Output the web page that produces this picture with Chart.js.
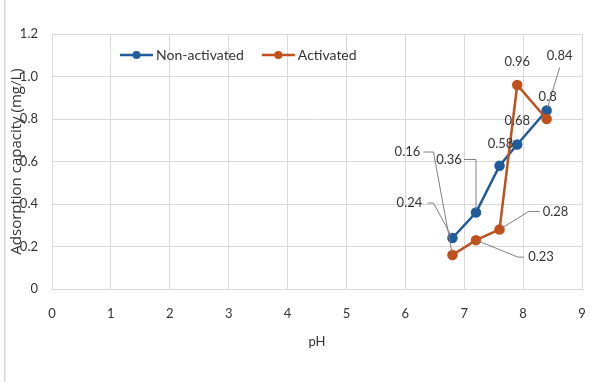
<!DOCTYPE html>
<html>
<head>
<meta charset="utf-8">
<script src="https://cdn.jsdelivr.net/npm/chart.js@4.4.1/dist/chart.umd.min.js"></script>
<style>
    html, body { margin: 0; padding: 0; background: #fff; }
    #wrap { width: 590px; height: 382px; position: relative; }
</style>
</head>
<body>
<div id="wrap"><canvas id="chart"></canvas></div>
<script>
const phValues = [6.8, 7.2, 7.6, 7.9, 8.4];
const nonActivated = [0.24, 0.36, 0.58, 0.68, 0.84];
const activated = [0.16, 0.23, 0.28, 0.96, 0.8];
const seriesNames = ["Non-activated", "Activated"];
const xTicks = {min: 0, max: 9, step: 1};
const yTicks = {min: 0, max: 1.2, step: 0.2};

const BLUE = "#1F5C99";
const ORANGE = "#C0501C";
const GRID = "#d9d9d9";
const TEXT = "#333333";

// label placement: text centre offset from the point, optional leader line (offsets from point)
const labelPlacement = [
    [
        {dx: -43, dy: -35, leader: [[-25, -35], [-19, -35]]},
        {dx: -27, dy: -53, leader: [[-12, -53], [0, -53]]},
        {dx: 1, dy: -22},
        {dx: 0, dy: -24},
        {dx: 13, dy: -55, leader: [[13, -43]]}
    ],
    [
        {dx: -45, dy: -103, leader: [[-29, -103], [-19, -103]]},
        {dx: 65, dy: 17, leader: [[48, 17], [42, 17]]},
        {dx: 56, dy: -18, leader: [[40, -18], [29, -18]]},
        {dx: 0, dy: -23},
        {dx: 1, dy: -22}
    ]
];

const toPoints = (ys) => phValues.map((x, i) => ({x: x, y: ys[i]}));

const backgroundFrame = {
    id: "backgroundFrame",
    beforeDraw(chart) {
        const ctx = chart.ctx;
        ctx.save();
        ctx.fillStyle = "#ffffff";
        ctx.fillRect(0, 0, chart.width, chart.height);
        ctx.fillStyle = "#d4d4d4";
        ctx.fillRect(4, 0, 1.5, chart.height);
        ctx.restore();
    }
};

const pointLabels = {
    id: "pointLabels",
    afterDatasetsDraw(chart, args, opts) {
        const ctx = chart.ctx;
        ctx.save();
        ctx.font = opts.font;
        ctx.textAlign = "center";
        ctx.textBaseline = "middle";
        chart.data.datasets.forEach((ds, i) => {
            const meta = chart.getDatasetMeta(i);
            meta.data.forEach((pt, j) => {
                const place = opts.placement[i][j];
                if (place.leader) {
                    ctx.beginPath();
                    ctx.strokeStyle = opts.leaderColor;
                    ctx.lineWidth = 1;
                    place.leader.forEach((p, k) => {
                        if (k === 0) ctx.moveTo(pt.x + p[0], pt.y + p[1]);
                        else ctx.lineTo(pt.x + p[0], pt.y + p[1]);
                    });
                    const last = place.leader[place.leader.length - 1];
                    const len = Math.hypot(last[0], last[1]) || 1;
                    ctx.lineTo(pt.x + last[0] / len * 3, pt.y + last[1] / len * 3);
                    ctx.stroke();
                }
                ctx.fillStyle = opts.color;
                ctx.fillText(String(ds.data[j].y), pt.x + place.dx, pt.y + place.dy);
            });
        });
        ctx.restore();
    }
};

const insideLegend = {
    id: "insideLegend",
    afterDraw(chart, args, opts) {
        const ctx = chart.ctx;
        const area = chart.chartArea;
        let x = area.left + opts.offsetX;
        const y = area.top + opts.offsetY;
        ctx.save();
        ctx.font = opts.font;
        ctx.textAlign = "left";
        ctx.textBaseline = "middle";
        chart.data.datasets.forEach((ds) => {
            ctx.strokeStyle = ds.borderColor;
            ctx.lineWidth = 2.5;
            ctx.beginPath();
            ctx.moveTo(x, y);
            ctx.lineTo(x + opts.lineLength, y);
            ctx.stroke();
            ctx.fillStyle = ds.borderColor;
            ctx.beginPath();
            ctx.arc(x + opts.lineLength / 2, y, 4, 0, Math.PI * 2);
            ctx.fill();
            ctx.fillStyle = opts.color;
            const tx = x + opts.lineLength + 3;
            ctx.fillText(ds.label, tx, y);
            x = tx + ctx.measureText(ds.label).width + opts.gap;
        });
        ctx.restore();
    }
};

Chart.defaults.font.family = "Lato, 'Open Sans', sans-serif";
Chart.defaults.color = TEXT;

new Chart(document.getElementById("chart"), {
    type: "scatter",
    data: {
        datasets: [
            {
                label: seriesNames[0],
                data: toPoints(nonActivated),
                borderColor: BLUE,
                backgroundColor: BLUE,
                showLine: true,
                borderWidth: 2.5,
                pointRadius: 4,
                order: 1
            },
            {
                label: seriesNames[1],
                data: toPoints(activated),
                borderColor: ORANGE,
                backgroundColor: ORANGE,
                showLine: true,
                borderWidth: 2.5,
                pointRadius: 4,
                order: 0
            }
        ]
    },
    options: {
        responsive: true,
        maintainAspectRatio: false,
        animation: false,
        layout: {padding: {left: 0, top: 34, right: 8, bottom: 0}},
        scales: {
            x: {
                type: "linear",
                min: xTicks.min,
                max: xTicks.max,
                ticks: {stepSize: xTicks.step, padding: 17, color: TEXT, font: {size: 13}},
                grid: {color: GRID, drawTicks: false},
                border: {color: GRID},
                title: {display: true, text: "pH", color: TEXT, font: {size: 13}, padding: {top: 0, bottom: 32}},
                afterFit: (scale) => {
                    scale.height = 93;
                    scale.paddingLeft = 0;
                    scale.paddingRight = 0;
                }
            },
            y: {
                type: "linear",
                min: yTicks.min,
                max: yTicks.max,
                ticks: {stepSize: yTicks.step, padding: 14, color: TEXT, font: {size: 13}},
                grid: {color: GRID, drawTicks: false},
                border: {color: GRID},
                title: {
                    display: true,
                    text: "Adsorption capacity (mg/L)",
                    color: TEXT,
                    font: {family: "'Open Sans', sans-serif", size: 15},
                    padding: {top: 8, bottom: 0}
                },
                afterFit: (scale) => { scale.width = 52; }
            }
        },
        plugins: {
            legend: {display: false},
            tooltip: {enabled: false},
            pointLabels: {placement: labelPlacement, font: "13px Lato", color: TEXT, leaderColor: "#808080"},
            insideLegend: {offsetX: 68, offsetY: 21, lineLength: 33, gap: 18, font: "14px Lato", color: TEXT}
        }
    },
    plugins: [backgroundFrame, pointLabels, insideLegend]
});
</script>
</body>
</html>
